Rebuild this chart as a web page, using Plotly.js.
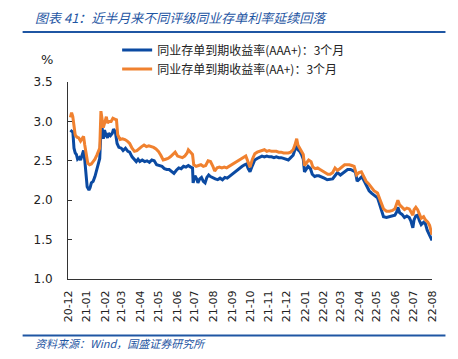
<!DOCTYPE html>
<html><head><meta charset="utf-8">
<script src="https://cdn.plot.ly/plotly-3.0.1.min.js"></script>
<style>html,body{margin:0;padding:0;background:#fff;}#chart{width:458px;height:359px;}</style>
</head><body><div id="chart"></div>
<script>
const seriesNames = ['同业存单到期收益率(AAA+)：3个月', '同业存单到期收益率(AA+)：3个月'];
const tickDates = ['2020-12-01','2021-01-01','2021-02-01','2021-03-01','2021-04-01','2021-05-01','2021-06-01','2021-07-01','2021-08-01','2021-09-01','2021-10-01','2021-11-01','2021-12-01','2022-01-01','2022-02-01','2022-03-01','2022-04-01','2022-05-01','2022-06-01','2022-07-01','2022-08-01'];
const tickLabels = ['20-12','21-01','21-02','21-03','21-04','21-05','21-06','21-07','21-08','21-09','21-10','21-11','21-12','22-01','22-02','22-03','22-04','22-05','22-06','22-07','22-08'];

const datesAAA = ['2020-12-05','2020-12-08','2020-12-09','2020-12-11','2020-12-13','2020-12-15','2020-12-17','2020-12-20','2020-12-22','2020-12-25','2020-12-27','2020-12-29','2020-12-31','2021-01-02','2021-01-05','2021-01-07','2021-01-09','2021-01-12','2021-01-15','2021-01-18','2021-01-21','2021-01-23','2021-01-25','2021-01-27','2021-01-29','2021-01-31','2021-02-02','2021-02-05','2021-02-07','2021-02-10','2021-02-13','2021-02-15','2021-02-18','2021-02-21','2021-02-24','2021-02-28','2021-03-03','2021-03-07','2021-03-11','2021-03-14','2021-03-18','2021-03-22','2021-03-25','2021-03-28','2021-03-31','2021-04-04','2021-04-08','2021-04-12','2021-04-16','2021-04-20','2021-04-24','2021-04-28','2021-05-03','2021-05-07','2021-05-11','2021-05-15','2021-05-19','2021-05-23','2021-05-27','2021-05-31','2021-06-04','2021-06-08','2021-06-12','2021-06-16','2021-06-20','2021-06-24','2021-06-27','2021-06-28','2021-07-01','2021-07-04','2021-07-06','2021-07-09','2021-07-12','2021-07-15','2021-07-18','2021-07-21','2021-07-24','2021-07-27','2021-07-31','2021-08-04','2021-08-08','2021-08-12','2021-08-16','2021-08-20','2021-08-24','2021-08-29','2021-09-03','2021-09-08','2021-09-13','2021-09-18','2021-09-22','2021-09-25','2021-09-28','2021-10-01','2021-10-05','2021-10-09','2021-10-13','2021-10-17','2021-10-21','2021-10-25','2021-10-29','2021-11-02','2021-11-06','2021-11-10','2021-11-14','2021-11-18','2021-11-22','2021-11-26','2021-11-30','2021-12-04','2021-12-08','2021-12-12','2021-12-15','2021-12-18','2021-12-20','2021-12-23','2021-12-26','2021-12-29','2021-12-31','2022-01-03','2022-01-06','2022-01-10','2022-01-13','2022-01-17','2022-01-20','2022-01-24','2022-01-28','2022-02-02','2022-02-07','2022-02-12','2022-02-16','2022-02-20','2022-02-24','2022-03-01','2022-03-05','2022-03-09','2022-03-13','2022-03-18','2022-03-22','2022-03-26','2022-03-29','2022-04-02','2022-04-06','2022-04-10','2022-04-14','2022-04-18','2022-04-22','2022-04-27','2022-05-02','2022-05-05','2022-05-08','2022-05-12','2022-05-17','2022-05-22','2022-05-27','2022-05-31','2022-06-03','2022-06-05','2022-06-08','2022-06-12','2022-06-16','2022-06-20','2022-06-24','2022-06-27','2022-06-30','2022-07-02','2022-07-05','2022-07-08','2022-07-11','2022-07-14','2022-07-18','2022-07-21','2022-07-24','2022-07-28','2022-08-01'];
const valsAAA = [2.89,2.87,2.88,2.66,2.60,2.58,2.52,2.54,2.51,2.60,2.63,2.51,2.28,2.17,2.13,2.16,2.22,2.24,2.30,2.38,2.49,2.53,2.87,2.92,2.78,2.89,2.84,2.79,2.85,2.82,2.85,2.90,2.87,2.72,2.67,2.66,2.63,2.66,2.62,2.61,2.55,2.52,2.49,2.52,2.49,2.51,2.49,2.50,2.48,2.51,2.50,2.45,2.44,2.43,2.40,2.39,2.39,2.37,2.34,2.38,2.41,2.40,2.43,2.42,2.44,2.42,2.41,2.22,2.31,2.27,2.22,2.27,2.29,2.24,2.22,2.29,2.32,2.30,2.28,2.27,2.26,2.28,2.26,2.29,2.28,2.31,2.35,2.38,2.41,2.43,2.45,2.46,2.40,2.36,2.44,2.51,2.53,2.55,2.56,2.55,2.56,2.55,2.55,2.54,2.55,2.54,2.54,2.53,2.52,2.51,2.54,2.57,2.64,2.70,2.64,2.62,2.58,2.52,2.36,2.40,2.43,2.40,2.33,2.30,2.31,2.31,2.30,2.28,2.26,2.27,2.27,2.31,2.35,2.32,2.34,2.37,2.39,2.39,2.38,2.36,2.24,2.27,2.30,2.24,2.17,2.12,2.09,2.06,2.03,1.96,1.88,1.79,1.78,1.79,1.80,1.81,1.85,1.91,1.84,1.82,1.78,1.80,1.78,1.73,1.65,1.75,1.80,1.81,1.74,1.69,1.72,1.70,1.62,1.56,1.49];

const datesAA = ['2020-12-05','2020-12-07','2020-12-09','2020-12-11','2020-12-13','2020-12-16','2020-12-19','2020-12-22','2020-12-24','2020-12-27','2020-12-29','2020-12-31','2021-01-03','2021-01-06','2021-01-09','2021-01-12','2021-01-15','2021-01-18','2021-01-21','2021-01-23','2021-01-25','2021-01-27','2021-01-29','2021-02-01','2021-02-03','2021-02-05','2021-02-08','2021-02-11','2021-02-14','2021-02-17','2021-02-20','2021-02-22','2021-02-26','2021-03-02','2021-03-06','2021-03-10','2021-03-14','2021-03-18','2021-03-22','2021-03-26','2021-03-30','2021-04-03','2021-04-07','2021-04-11','2021-04-15','2021-04-19','2021-04-23','2021-04-27','2021-05-01','2021-05-05','2021-05-09','2021-05-13','2021-05-17','2021-05-21','2021-05-25','2021-05-29','2021-06-02','2021-06-06','2021-06-10','2021-06-14','2021-06-18','2021-06-20','2021-06-24','2021-06-27','2021-06-29','2021-07-03','2021-07-07','2021-07-11','2021-07-15','2021-07-19','2021-07-23','2021-07-27','2021-07-31','2021-08-03','2021-08-07','2021-08-11','2021-08-15','2021-08-19','2021-08-23','2021-08-27','2021-09-01','2021-09-06','2021-09-11','2021-09-16','2021-09-21','2021-09-24','2021-09-28','2021-10-01','2021-10-05','2021-10-09','2021-10-13','2021-10-17','2021-10-21','2021-10-25','2021-10-29','2021-11-02','2021-11-06','2021-11-10','2021-11-14','2021-11-18','2021-11-22','2021-11-26','2021-11-30','2021-12-04','2021-12-08','2021-12-12','2021-12-15','2021-12-18','2021-12-20','2021-12-23','2021-12-26','2021-12-29','2021-12-31','2022-01-03','2022-01-07','2022-01-11','2022-01-14','2022-01-18','2022-01-22','2022-01-26','2022-01-30','2022-02-04','2022-02-08','2022-02-12','2022-02-16','2022-02-20','2022-02-24','2022-02-28','2022-03-04','2022-03-08','2022-03-12','2022-03-16','2022-03-20','2022-03-24','2022-03-28','2022-04-01','2022-04-05','2022-04-09','2022-04-13','2022-04-17','2022-04-21','2022-04-26','2022-05-02','2022-05-05','2022-05-08','2022-05-12','2022-05-17','2022-05-22','2022-05-27','2022-05-31','2022-06-03','2022-06-05','2022-06-08','2022-06-12','2022-06-16','2022-06-20','2022-06-24','2022-06-27','2022-06-30','2022-07-02','2022-07-05','2022-07-08','2022-07-11','2022-07-14','2022-07-18','2022-07-21','2022-07-25','2022-07-28','2022-08-01'];
const valsAA = [3.05,3.11,3.06,2.90,2.83,2.80,2.79,2.75,2.77,2.81,2.70,2.58,2.47,2.45,2.46,2.49,2.52,2.57,2.62,2.66,3.13,3.04,2.92,3.00,3.06,2.98,3.00,3.00,3.04,3.03,3.02,2.83,2.77,2.78,2.77,2.75,2.72,2.66,2.62,2.63,2.66,2.68,2.70,2.68,2.69,2.68,2.67,2.65,2.62,2.57,2.51,2.52,2.53,2.55,2.58,2.61,2.56,2.55,2.54,2.56,2.60,2.64,2.60,2.58,2.45,2.43,2.44,2.45,2.43,2.44,2.50,2.49,2.43,2.37,2.41,2.42,2.41,2.42,2.41,2.43,2.45,2.48,2.50,2.52,2.55,2.56,2.48,2.42,2.52,2.59,2.61,2.62,2.63,2.64,2.62,2.63,2.62,2.62,2.62,2.61,2.61,2.60,2.60,2.60,2.61,2.64,2.70,2.78,2.70,2.66,2.63,2.58,2.44,2.47,2.51,2.49,2.42,2.40,2.41,2.39,2.37,2.34,2.33,2.33,2.35,2.41,2.38,2.40,2.43,2.45,2.45,2.45,2.44,2.43,2.32,2.35,2.36,2.29,2.24,2.21,2.17,2.12,2.09,2.04,1.97,1.89,1.86,1.86,1.87,1.89,1.95,2.00,1.94,1.91,1.88,1.90,1.89,1.85,1.81,1.88,1.91,1.88,1.82,1.77,1.79,1.75,1.72,1.68,1.56];

const blue = '#0b4aa2', orange = '#f0812f', titleBlue = '#1f56a3';

const traces = [
  {x: datesAAA, y: valsAAA, name: seriesNames[0], type: 'scatter', mode: 'lines', line: {color: blue, width: 3}, cliponaxis: false},
  {x: datesAA, y: valsAA, name: seriesNames[1], type: 'scatter', mode: 'lines', line: {color: orange, width: 3}, cliponaxis: false}
];

const layout = {
  width: 458, height: 359,
  margin: {l: 67.5, r: 25.5, t: 82, b: 80},
  paper_bgcolor: '#fff', plot_bgcolor: '#fff',
  showlegend: true,
  legend: {x: 0.135, y: 1.236, xanchor: 'left', yanchor: 'top', bgcolor: 'rgba(0,0,0,0)',
           font: {family: 'Noto Sans CJK SC', size: 12, color: '#222'}, tracegroupgap: 0, itemwidth: 30},
  xaxis: {type: 'date', range: ['2020-12-01', '2022-08-01'], tickmode: 'array', tickvals: tickDates, ticktext: tickLabels,
          tickangle: -90, tickfont: {family: 'DejaVu Sans', size: 11, color: '#222'}, showgrid: false, zeroline: false,
          showline: true, linecolor: '#333', linewidth: 1, ticks: 'outside', ticklen: 6, tickcolor: 'rgba(0,0,0,0)'},
  yaxis: {range: [1.0, 3.5], tickmode: 'array', tickvals: [1.0,1.5,2.0,2.5,3.0,3.5], ticktext: ['1.0','1.5','2.0','2.5','3.0','3.5'],
          tickfont: {family: 'DejaVu Sans', size: 12, color: '#222'}, showgrid: false, zeroline: false,
          showline: true, linecolor: '#333', linewidth: 1, ticks: 'inside', ticklen: 4, tickcolor: '#333', ticklabelstandoff: 12},
  annotations: [
    {text: '图表 41：近半月来不同评级同业存单利率延续回落', xref: 'paper', yref: 'paper', x: (32 - 67.5) / 365, y: (279 - 18) / 197,
     xanchor: 'left', yanchor: 'middle', showarrow: false, font: {family: 'Noto Sans CJK SC', size: 13, color: titleBlue, style: 'italic'}},
    {text: '%', xref: 'paper', yref: 'paper', x: (46 - 67.5) / 365, y: (279 - 59) / 197, xanchor: 'center', yanchor: 'middle',
     showarrow: false, font: {family: 'DejaVu Sans', size: 13, color: '#222'}},
    {text: '资料来源：Wind，国盛证券研究所', xref: 'paper', yref: 'paper', x: (32 - 67.5) / 365, y: (279 - 343) / 197,
     xanchor: 'left', yanchor: 'middle', showarrow: false, font: {family: 'Noto Sans CJK SC', size: 11, color: titleBlue, style: 'italic'}}
  ],
  shapes: [
    {type: 'line', xref: 'paper', yref: 'paper', x0: (22 - 67.5) / 365, x1: (446 - 67.5) / 365, y0: (279 - 32) / 197, y1: (279 - 32) / 197, line: {color: titleBlue, width: 2}},
    {type: 'line', xref: 'paper', yref: 'paper', x0: (22 - 67.5) / 365, x1: (446 - 67.5) / 365, y0: (279 - 335.5) / 197, y1: (279 - 335.5) / 197, line: {color: titleBlue, width: 2}}
  ]
};

Plotly.newPlot('chart', traces, layout, {displayModeBar: false, staticPlot: true});
</script>
</body></html>
